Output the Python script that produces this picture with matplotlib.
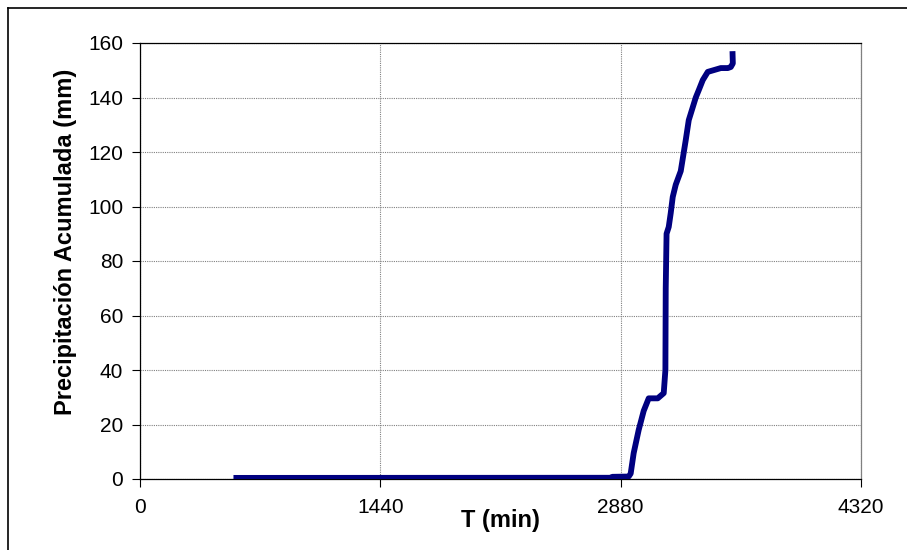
import matplotlib
matplotlib.use("Agg")
import matplotlib.pyplot as plt
from matplotlib.lines import Line2D

plt.rcParams['font.family'] = ['Liberation Sans', 'DejaVu Sans']

# data (minutes, accumulated precipitation mm)
t_min = [560, 2820, 2830, 2928, 2940, 2958, 2988, 3018, 3048, 3102, 3138,
         3148, 3150, 3155, 3168, 3180, 3192, 3210, 3240, 3270, 3288, 3330,
         3348, 3372, 3402, 3480, 3522, 3540, 3552, 3550]
precip = [0.4, 0.45, 0.8, 0.9, 2.0, 9.5, 18.0, 25.0, 29.6, 29.6, 31.5,
          40.0, 70.0, 90.0, 92.5, 97.6, 103.5, 108.0, 113.0, 124.4, 131.7, 140.0,
          142.7, 146.4, 149.4, 150.8, 150.8, 151.2, 152.5, 157.0]

x_ticks = [0, 1440, 2880, 4320]
y_ticks = [0, 20, 40, 60, 80, 100, 120, 140, 160]

fig = plt.figure(figsize=(9.07, 5.5), dpi=100)
ax = fig.add_axes([140/907, 1-479/550, (861-140)/907, (479-43)/550])

ax.plot(t_min, precip, color='#000080', lw=4.2, solid_joinstyle='round', solid_capstyle='butt', zorder=3)

ax.set_xlim(0, 4320)
ax.set_ylim(0, 160)
ax.set_xticks(x_ticks)
ax.set_yticks(y_ticks)
ax.set_xticklabels([str(v) for v in x_ticks])
ax.tick_params(axis='both', direction='out', length=6, width=0.8, labelsize=15, colors='black')
ax.tick_params(axis='x', pad=8)
ax.tick_params(axis='y', pad=6)

ax.grid(True, color='#808080', linestyle=(0, (1, 1)), lw=0.8, zorder=1)
for s in ax.spines.values():
    s.set_color('black')
    s.set_linewidth(0.9)
ax.spines['right'].set_color('#808080')

ax.set_xlabel('T (min)', fontsize=17, fontweight='bold')
ax.set_ylabel('Precipitación Acumulada (mm)', fontsize=17, fontweight='bold')
ax.xaxis.set_label_coords((500-140)/(861-140), -(509-479)/436)
ax.yaxis.set_label_coords((77-140)/(861-140), (479-242)/436)

# outer border (top and left visible)
fig.add_artist(Line2D([7.5/907, 1.0], [1-7.5/550, 1-7.5/550], color='black', lw=1.2, transform=fig.transFigure))
fig.add_artist(Line2D([7.5/907, 7.5/907], [0.0, 1-7.5/550], color='black', lw=1.2, transform=fig.transFigure))

fig.savefig('out.png', dpi=100, facecolor='white')
